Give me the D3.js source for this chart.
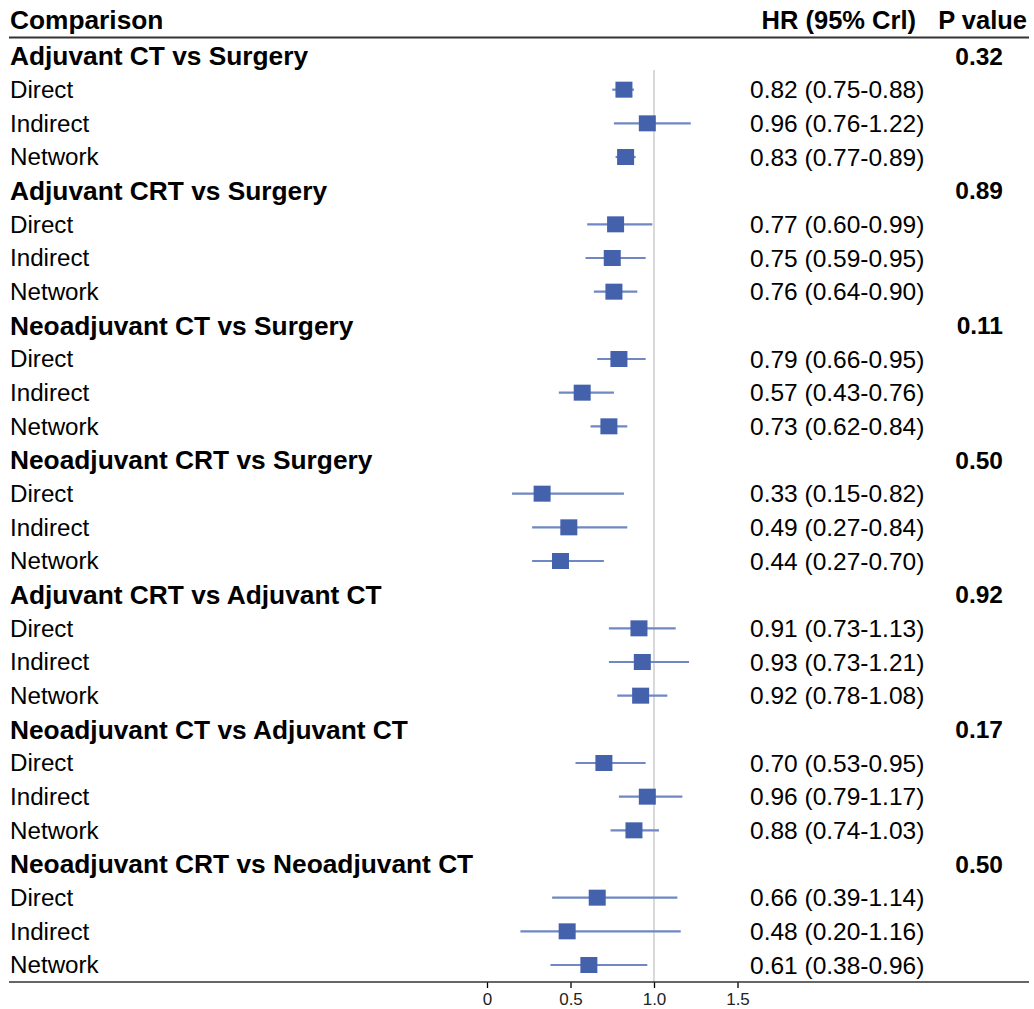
<!DOCTYPE html>
<html>
<head>
<meta charset="utf-8">
<script src="https://cdn.jsdelivr.net/npm/d3@7"></script>
<style>
  html, body { margin: 0; padding: 0; background: #fff; }
  svg { display: block; font-family: "Liberation Sans", Arial, sans-serif; }
</style>
</head>
<body>
<svg id="chart" width="1034" height="1009"></svg>
<script>
// Pairwise comparisons, each with direct / indirect / network estimates
const comparisons = [
  "Adjuvant CT vs Surgery",
  "Adjuvant CRT vs Surgery",
  "Neoadjuvant CT vs Surgery",
  "Neoadjuvant CRT vs Surgery",
  "Adjuvant CRT vs Adjuvant CT",
  "Neoadjuvant CT vs Adjuvant CT",
  "Neoadjuvant CRT vs Neoadjuvant CT"
];
const pValues = ["0.32", "0.89", "0.11", "0.50", "0.92", "0.17", "0.50"];
const evidenceTypes = ["Direct", "Indirect", "Network"];

// Hazard ratios and 95% credible intervals, three per comparison
const hr = [
  0.82, 0.96, 0.83,
  0.77, 0.75, 0.76,
  0.79, 0.57, 0.73,
  0.33, 0.49, 0.44,
  0.91, 0.93, 0.92,
  0.70, 0.96, 0.88,
  0.66, 0.48, 0.61
];
const lower = [
  0.75, 0.76, 0.77,
  0.60, 0.59, 0.64,
  0.66, 0.43, 0.62,
  0.15, 0.27, 0.27,
  0.73, 0.73, 0.78,
  0.53, 0.79, 0.74,
  0.39, 0.20, 0.38
];
const upper = [
  0.88, 1.22, 0.89,
  0.99, 0.95, 0.90,
  0.95, 0.76, 0.84,
  0.82, 0.84, 0.70,
  1.13, 1.21, 1.08,
  0.95, 1.17, 1.03,
  1.14, 1.16, 0.96
];
const axisTicks = [0, 0.5, 1.0, 1.5];
const axisTickLabels = ["0", "0.5", "1.0", "1.5"];

const svg = d3.select("#chart");
const left = 10, right = 1029;

// Build row list: a header row per comparison followed by its three estimates
const rows = [];
comparisons.forEach((c, i) => {
  rows.push({ type: "group", label: c, p: pValues[i] });
  evidenceTypes.forEach((t, j) => {
    const k = i * 3 + j;
    rows.push({ type: "est", label: t, hr: hr[k], lo: lower[k], hi: upper[k] });
  });
});

const y = d3.scalePoint()
  .domain(d3.range(rows.length))
  .range([56, 965]);

const x = d3.scaleLinear().domain([0, 1]).range([487, 654]);

// Column headers
const head = svg.append("g").attr("font-weight", "bold").attr("fill", "#000");
head.append("text").attr("x", left).attr("y", 29).attr("font-size", 26.3).text("Comparison");
head.append("text").attr("x", 916).attr("y", 29).attr("text-anchor", "end").attr("font-size", 25.5).text("HR (95% Crl)");
head.append("text").attr("x", 1027).attr("y", 29).attr("text-anchor", "end").attr("font-size", 25.5).text("P value");

svg.append("line")
  .attr("x1", left - 1).attr("x2", right)
  .attr("y1", 37.5).attr("y2", 37.5)
  .attr("stroke", "#333").attr("stroke-width", 2);

// Line of no effect
svg.append("line")
  .attr("x1", x(1)).attr("x2", x(1))
  .attr("y1", 70).attr("y2", 982)
  .attr("stroke", "#d0d0d0").attr("stroke-width", 1.6);

const rowG = svg.append("g").selectAll("g")
  .data(rows)
  .join("g")
  .attr("transform", (d, i) => `translate(0,${y(i)})`);

rowG.filter(d => d.type === "group").each(function (d) {
  const g = d3.select(this);
  g.append("text").attr("x", left).attr("dy", "0.35em")
    .attr("font-weight", "bold").attr("font-size", 26.3).text(d.label);
  g.append("text").attr("x", 1003).attr("dy", "0.35em").attr("text-anchor", "end")
    .attr("font-weight", "bold").attr("font-size", 24.5).text(d.p);
});

rowG.filter(d => d.type === "est").each(function (d) {
  const g = d3.select(this);
  g.append("text").attr("x", left).attr("dy", "0.35em")
    .attr("font-size", 24.2).text(d.label);
  g.append("line")
    .attr("x1", x(d.lo)).attr("x2", x(d.hi))
    .attr("stroke", "#6f88c4").attr("stroke-width", 2.2);
  g.append("rect")
    .attr("x", x(d.hr) - 8.5).attr("y", -8)
    .attr("width", 17).attr("height", 16)
    .attr("fill", "#4461ab");
  g.append("text").attr("x", 750).attr("dy", "0.35em")
    .attr("font-size", 24.5)
    .text(`${d.hr.toFixed(2)} (${d.lo.toFixed(2)}-${d.hi.toFixed(2)})`);
});

// Bottom axis
const axis = d3.axisBottom(x)
  .tickValues(axisTicks)
  .tickFormat((d, i) => axisTickLabels[i])
  .tickSize(6)
  .tickSizeOuter(0);

const axisG = svg.append("g").attr("transform", "translate(0,982)").call(axis);
axisG.select(".domain").remove();
axisG.selectAll(".tick line").attr("stroke", "#000").attr("stroke-width", 1.3);
axisG.selectAll(".tick text")
  .style("font-size", "17px")
  .style("font-family", "'Liberation Sans', Arial, sans-serif")
  .attr("fill", "#222")
  .attr("y", 10)
  .attr("dy", "0.75em");

svg.append("line")
  .attr("x1", left - 1).attr("x2", right)
  .attr("y1", 982).attr("y2", 982)
  .attr("stroke", "#333").attr("stroke-width", 1.4);
</script>
</body>
</html>
